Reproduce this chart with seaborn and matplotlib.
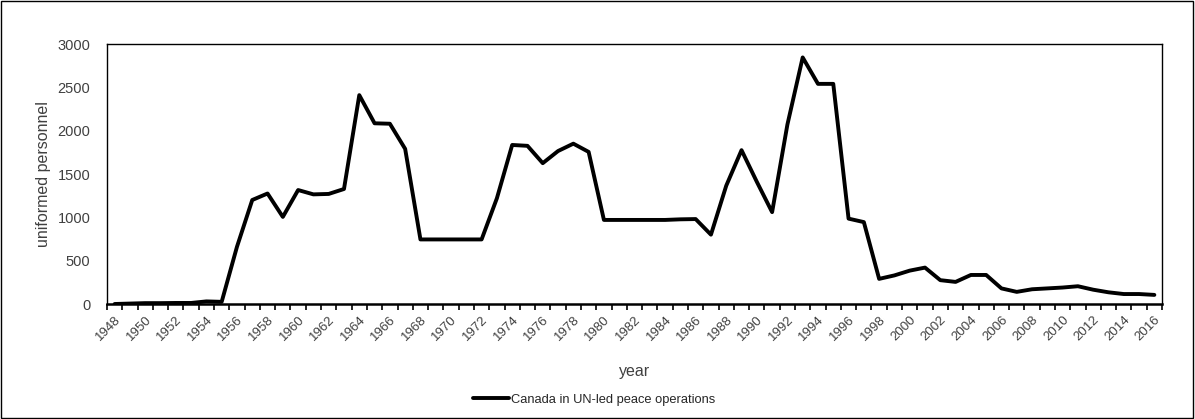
import numpy as np
import pandas as pd
import seaborn as sns
import matplotlib.pyplot as plt
from matplotlib.patches import Rectangle
from matplotlib.ticker import FixedLocator

# ------------------------------------------------------------
# DATA
# ------------------------------------------------------------
years = list(range(1948, 2017))
personnel = [
    0, 5, 10, 10, 12, 12, 30, 25,                 # 1948-1955
    660, 1200, 1275, 1005, 1315, 1265, 1270, 1327,  # 1956-1963
    2410, 2085, 2080, 1790, 745, 745, 745, 745,     # 1964-1971
    745, 1220, 1835, 1825, 1625, 1765, 1850, 1755,  # 1972-1979
    970, 970, 970, 970, 970, 977, 980, 800,         # 1980-1987
    1365, 1775, 1410, 1060, 2070, 2845, 2540, 2540,  # 1988-1995
    985, 945, 290, 330, 385, 420, 275, 255,         # 1996-2003
    335, 335, 180, 140, 170, 180, 190, 205,         # 2004-2011
    165, 135, 115, 115, 105,                        # 2012-2016
]
series_label = 'Canada in UN-led peace operations'
x_label = 'year'
y_label = 'uniformed personnel'

df = pd.DataFrame({'year': years, 'personnel': personnel})

# ------------------------------------------------------------
# PLOT
# ------------------------------------------------------------
sns.set_style('white')
plt.rcParams['font.family'] = ['Liberation Sans', 'DejaVu Sans']
txt_color = '#404040'

W, H = 1195, 419
fig = plt.figure(figsize=(W / 100, H / 100), dpi=100)
ax = fig.add_axes([107 / W, (H - 304) / H, 1055 / W, 260 / H])

sns.lineplot(data=df, x='year', y='personnel', ax=ax, color='black',
             lw=2.8, label=series_label, legend=False)

ax.set_xlim(years[0] - 0.5, years[-1] + 0.5)
ax.set_ylim(0, 3000)
ax.set_yticks(np.arange(0, 3001, 500))

# labels every 2 years at category centres, tick marks on boundaries
ax.set_xticks(years[::2])
ax.set_xticklabels([str(y) for y in years[::2]], rotation=45,
                   ha='right', rotation_mode='anchor', fontsize=9.5,
                   color=txt_color)
ax.xaxis.set_minor_locator(FixedLocator(np.arange(years[0] - 0.5,
                                                   years[-1] + 1, 1)))
ax.tick_params(axis='x', which='major', length=0, pad=7)
ax.tick_params(axis='x', which='minor', length=4, width=1.2,
               direction='out', color='black', bottom=True)
ax.tick_params(axis='y', length=4, width=1.0, direction='in',
               color='black', labelsize=10.5, labelcolor=txt_color,
               pad=12)

for side in ['top', 'right', 'left']:
    ax.spines[side].set_color('black')
    ax.spines[side].set_linewidth(1.0)
ax.spines['bottom'].set_color('black')
ax.spines['bottom'].set_linewidth(1.8)

ax.set_xlabel(x_label, fontsize=11.5, color=txt_color, labelpad=15)
ax.set_ylabel(y_label, fontsize=11.5, color=txt_color, labelpad=5)

handles, labels = ax.get_legend_handles_labels()
fig.legend(handles, labels, loc='center', bbox_to_anchor=(0.497, 0.046),
           frameon=False, fontsize=9.3, handlelength=2.8, handletextpad=0.1)

# outer chart border
fig.patches.append(Rectangle((0.001, 0.002), 0.997, 0.995,
                             transform=fig.transFigure, fill=False,
                             edgecolor='black', lw=1.0))

fig.savefig('out.png', dpi=100)
